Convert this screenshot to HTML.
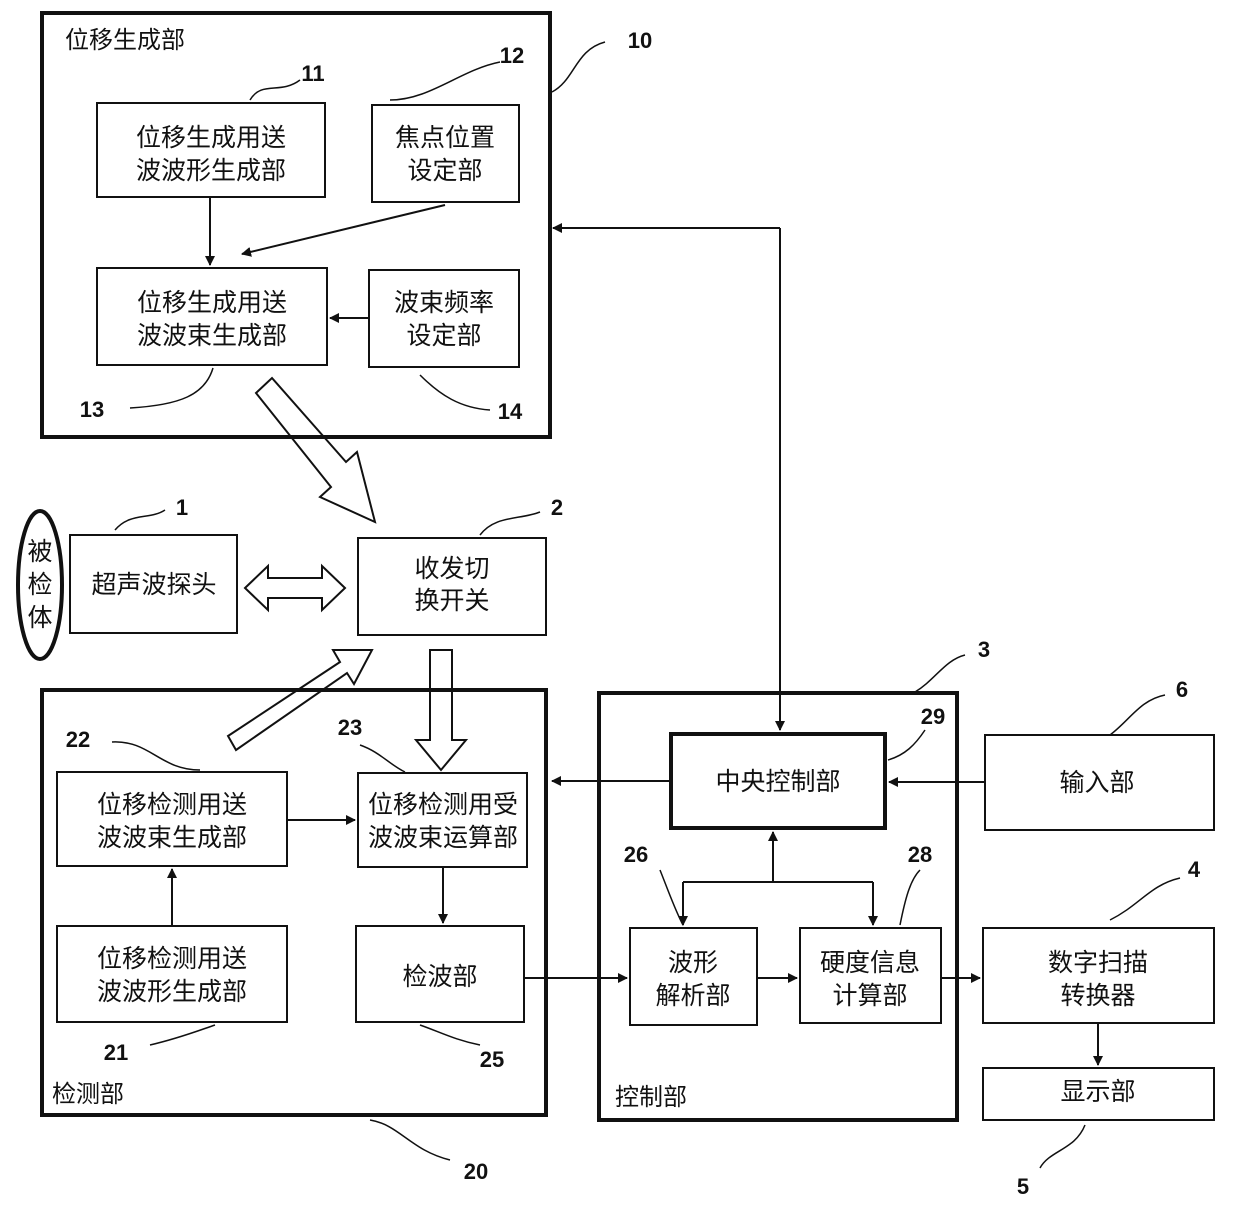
<!DOCTYPE html>
<html><head><meta charset="utf-8"><style>
html,body{margin:0;padding:0;background:#fff;}
svg{display:block}
text{font-family:"Liberation Sans","Noto Sans CJK SC",sans-serif;fill:#111;}
.c{font-size:25px;text-anchor:middle}
.n{font-size:22px;text-anchor:middle;font-weight:bold}
</style></head><body>
<svg width="1240" height="1226" viewBox="0 0 1240 1226" xmlns="http://www.w3.org/2000/svg">
<defs>
<marker id="a" markerWidth="10" markerHeight="10" refX="9" refY="5" orient="auto" markerUnits="userSpaceOnUse">
<path d="M0,0 L10,5 L0,10 z" fill="#111"/></marker>
</defs>
<g fill="none" stroke="#111">
<rect x="42" y="13" width="508" height="424" stroke-width="4"/>
<rect x="97" y="103" width="228" height="94" stroke-width="2"/>
<rect x="372" y="105" width="147" height="97" stroke-width="2"/>
<rect x="97" y="268" width="230" height="97" stroke-width="2"/>
<rect x="369" y="270" width="150" height="97" stroke-width="2"/>
<line x1="210" y1="197" x2="210" y2="265" stroke-width="2" marker-end="url(#a)"/>
<line x1="445" y1="205" x2="242" y2="254" stroke-width="2" marker-end="url(#a)"/>
<line x1="369" y1="318" x2="330" y2="318" stroke-width="2" marker-end="url(#a)"/>
<path d="M250,100 C262,80 280,95 300,80" stroke-width="1.5"/>
<path d="M390,100 C430,100 460,70 500,62" stroke-width="1.5"/>
<path d="M552,92 C575,80 575,50 605,42" stroke-width="1.5"/>
<path d="M130,408 C180,405 205,395 213,368" stroke-width="1.5"/>
<path d="M420,375 C440,395 460,408 490,410" stroke-width="1.5"/>
<path d="M256,393 L272,378 L346,462 L357,452 L375,522 L320,497 L331,487 Z" stroke-width="2"/>
<ellipse cx="40" cy="585" rx="22" ry="74" stroke-width="4"/>
<rect x="70" y="535" width="167" height="98" stroke-width="2"/>
<path d="M245,588 L268,566 L268,578 L322,578 L322,566 L345,588 L322,610 L322,598 L268,598 L268,610 Z" stroke-width="2"/>
<rect x="358" y="538" width="188" height="97" stroke-width="2"/>
<path d="M228,736 L340,662 L333,650 L372,650 L354,684 L347,673 L236,750 Z" stroke-width="2"/>
<path d="M430,650 L452,650 L452,740 L466,740 L441,770 L416,740 L430,740 Z" stroke-width="2"/>
<rect x="42" y="690" width="504" height="425" stroke-width="4"/>
<rect x="57" y="772" width="230" height="94" stroke-width="2"/>
<rect x="358" y="773" width="169" height="94" stroke-width="2"/>
<rect x="57" y="926" width="230" height="96" stroke-width="2"/>
<rect x="356" y="926" width="168" height="96" stroke-width="2"/>
<line x1="287" y1="820" x2="355" y2="820" stroke-width="2" marker-end="url(#a)"/>
<line x1="172" y1="926" x2="172" y2="869" stroke-width="2" marker-end="url(#a)"/>
<line x1="443" y1="867" x2="443" y2="923" stroke-width="2" marker-end="url(#a)"/>
<line x1="524" y1="978" x2="627" y2="978" stroke-width="2" marker-end="url(#a)"/>
<path d="M112,742 C150,740 160,770 200,770" stroke-width="1.5"/>
<path d="M360,745 C380,752 390,765 405,772" stroke-width="1.5"/>
<path d="M150,1045 C180,1038 200,1030 215,1025" stroke-width="1.5"/>
<path d="M420,1025 C440,1032 455,1040 480,1045" stroke-width="1.5"/>
<path d="M370,1120 C400,1125 410,1150 450,1160" stroke-width="1.5"/>
<rect x="599" y="693" width="358" height="427" stroke-width="4"/>
<rect x="671" y="734" width="214" height="94" stroke-width="4"/>
<line x1="780" y1="228" x2="780" y2="730" stroke-width="2" marker-end="url(#a)"/>
<line x1="780" y1="228" x2="553" y2="228" stroke-width="2" marker-end="url(#a)"/>
<line x1="671" y1="781" x2="552" y2="781" stroke-width="2" marker-end="url(#a)"/>
<rect x="985" y="735" width="229" height="95" stroke-width="2"/>
<line x1="985" y1="782" x2="889" y2="782" stroke-width="2" marker-end="url(#a)"/>
<rect x="630" y="928" width="127" height="97" stroke-width="2"/>
<rect x="800" y="928" width="141" height="95" stroke-width="2"/>
<line x1="773" y1="882" x2="773" y2="832" stroke-width="2" marker-end="url(#a)"/>
<line x1="683" y1="882" x2="873" y2="882" stroke-width="2"/>
<line x1="683" y1="882" x2="683" y2="925" stroke-width="2" marker-end="url(#a)"/>
<line x1="873" y1="882" x2="873" y2="925" stroke-width="2" marker-end="url(#a)"/>
<line x1="757" y1="978" x2="797" y2="978" stroke-width="2" marker-end="url(#a)"/>
<line x1="941" y1="978" x2="980" y2="978" stroke-width="2" marker-end="url(#a)"/>
<rect x="983" y="928" width="231" height="95" stroke-width="2"/>
<line x1="1098" y1="1023" x2="1098" y2="1065" stroke-width="2" marker-end="url(#a)"/>
<rect x="983" y="1068" width="231" height="52" stroke-width="2"/>
<path d="M915,692 C935,680 945,660 965,655" stroke-width="1.5"/>
<path d="M888,760 C905,755 915,745 925,730" stroke-width="1.5"/>
<path d="M1110,735 C1130,720 1140,700 1165,695" stroke-width="1.5"/>
<path d="M660,870 C668,890 675,910 683,925" stroke-width="1.5"/>
<path d="M900,925 C905,900 910,880 920,870" stroke-width="1.5"/>
<path d="M1110,920 C1140,905 1150,885 1180,878" stroke-width="1.5"/>
<path d="M1085,1125 C1075,1150 1050,1150 1040,1168" stroke-width="1.5"/>
<path d="M115,530 C130,512 150,520 165,510" stroke-width="1.5"/>
<path d="M480,535 C495,515 520,520 540,512" stroke-width="1.5"/>
</g>
<text x="65" y="48" style="font-size:24px">位移生成部</text>
<text class="c" x="211" y="146">位移生成用送</text><text class="c" x="211" y="179">波波形生成部</text>
<text class="c" x="445" y="146">焦点位置</text><text class="c" x="445" y="179">设定部</text>
<text class="c" x="212" y="311">位移生成用送</text><text class="c" x="212" y="344">波波束生成部</text>
<text class="c" x="444" y="311">波束频率</text><text class="c" x="444" y="344">设定部</text>
<text class="n" x="313" y="81">11</text><text class="n" x="512" y="63">12</text><text class="n" x="640" y="48">10</text>
<text class="n" x="92" y="417">13</text><text class="n" x="510" y="419">14</text>
<text class="c" x="40" y="560">被</text><text class="c" x="40" y="593">检</text><text class="c" x="40" y="626">体</text>
<text class="c" x="154" y="593">超声波探头</text>
<text class="c" x="452" y="577">收发切</text><text class="c" x="452" y="609">换开关</text>
<text class="n" x="182" y="515">1</text><text class="n" x="557" y="515">2</text>
<text class="c" x="172" y="813">位移检测用送</text><text class="c" x="172" y="846">波波束生成部</text>
<text class="c" x="443" y="813">位移检测用受</text><text class="c" x="443" y="846">波波束运算部</text>
<text class="c" x="172" y="967">位移检测用送</text><text class="c" x="172" y="1000">波波形生成部</text>
<text class="c" x="440" y="985">检波部</text>
<text x="52" y="1102" style="font-size:24px">检测部</text>
<text class="n" x="78" y="747">22</text><text class="n" x="350" y="735">23</text>
<text class="n" x="116" y="1060">21</text><text class="n" x="492" y="1067">25</text><text class="n" x="476" y="1179">20</text>
<text class="c" x="778" y="790">中央控制部</text>
<text class="c" x="1097" y="791">输入部</text>
<text class="c" x="693" y="971">波形</text><text class="c" x="693" y="1004">解析部</text>
<text class="c" x="870" y="971">硬度信息</text><text class="c" x="870" y="1004">计算部</text>
<text class="c" x="1098" y="971">数字扫描</text><text class="c" x="1098" y="1004">转换器</text>
<text class="c" x="1098" y="1100">显示部</text>
<text x="615" y="1105" style="font-size:24px">控制部</text>
<text class="n" x="984" y="657">3</text><text class="n" x="933" y="724">29</text><text class="n" x="1182" y="697">6</text>
<text class="n" x="636" y="862">26</text><text class="n" x="920" y="862">28</text><text class="n" x="1194" y="877">4</text>
<text class="n" x="1023" y="1194">5</text>
</svg>
</body></html>
